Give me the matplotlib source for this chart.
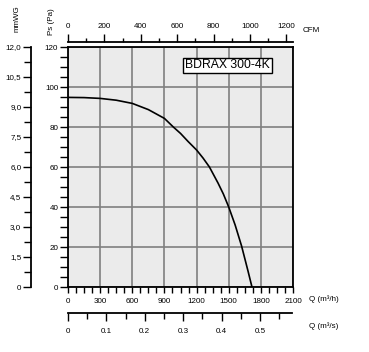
import matplotlib
matplotlib.use("Agg")
import matplotlib.pyplot as plt
from matplotlib.ticker import MultipleLocator, FixedLocator

plt.rcParams['font.family'] = ['Liberation Sans', 'DejaVu Sans']

# ---- data ----
flow_m3h = [0, 150, 300, 450, 600, 750, 900, 983, 1050, 1120, 1200, 1260, 1320, 1400, 1450, 1500, 1560, 1620, 1680, 1717]
pressure_pa = [94.8, 94.7, 94.3, 93.4, 91.8, 88.7, 84.3, 80, 76.8, 72.8, 68.5, 64.5, 60, 52, 46.5, 40, 31, 20.5, 8, 0]
model_name = "BDRAX 300-4K"
mmwg_ticks = [0, 1.5, 3.0, 4.5, 6.0, 7.5, 9.0, 10.5, 12.0]
mmwg_labels = ["0", "1,5", "3,0", "4,5", "6,0", "7,5", "9,0", "10,5", "12,0"]
pa_ticks = [0, 20, 40, 60, 80, 100, 120]
m3h_ticks = [0, 300, 600, 900, 1200, 1500, 1800, 2100]
cfm_ticks = [0, 200, 400, 600, 800, 1000, 1200]
m3s_ticks = [0, 0.1, 0.2, 0.3, 0.4, 0.5]
m3s_labels = ["0", "0.1", "0.2", "0.3", "0.4", "0.5"]

W, H = 369, 352
fig = plt.figure(figsize=(W / 100, H / 100), dpi=100)
fig.patch.set_facecolor('white')

def px_axes(x0, y0, x1, y1):
    return fig.add_axes([x0 / W, 1 - y1 / H, (x1 - x0) / W, (y1 - y0) / H])

FS = 5.8
XMAX = 2100

# main axes
ax = px_axes(68, 47, 293, 287)
ax.set_facecolor('#ebebeb')
ax.plot(flow_m3h, pressure_pa, color='black', lw=1.2, zorder=3)
ax.set_xlim(0, XMAX)
ax.set_ylim(0, 120)
ax.xaxis.set_major_locator(FixedLocator(m3h_ticks))
ax.xaxis.set_minor_locator(MultipleLocator(75))
ax.yaxis.set_major_locator(FixedLocator(pa_ticks))
ax.yaxis.set_minor_locator(MultipleLocator(5))
ax.grid(True, which='major', color='#808080', lw=1.2, zorder=1)
for s in ax.spines.values():
    s.set_linewidth(1.3)
    s.set_color('black')
ax.tick_params(axis='both', which='both', direction='out', labelsize=FS, color='black', width=1.0)
ax.tick_params(axis='x', which='major', length=4, pad=4)
ax.tick_params(axis='x', which='minor', length=4)
ax.tick_params(axis='y', which='major', length=6, pad=1)
ax.tick_params(axis='y', which='minor', length=6)
ax.set_xticklabels([str(t) for t in m3h_ticks])
ax.set_yticklabels([str(t) for t in pa_ticks])
fig.text(309 / W, 1 - 299 / H, "Q (m³/h)", fontsize=FS, va='center', ha='left')
ax.text(0.52, 0.923, model_name, transform=ax.transAxes, fontsize=8.8, ha='left', va='center',
        bbox=dict(boxstyle='square,pad=0.15', facecolor='white', edgecolor='black', lw=1.0), zorder=5)

# top CFM axis
axt = px_axes(68, 42.3, 293, 44)
axt.set_xlim(0, XMAX / 1.699)
axt.patch.set_visible(False)
for k, s in axt.spines.items():
    s.set_visible(k == 'top')
axt.spines['top'].set_linewidth(1.3)
axt.xaxis.tick_top()
axt.set_yticks([])
axt.xaxis.set_major_locator(FixedLocator(cfm_ticks))
axt.xaxis.set_minor_locator(FixedLocator([100, 300, 500, 700, 900, 1100]))
axt.set_xticklabels([str(t) for t in cfm_ticks])
axt.tick_params(axis='x', which='major', direction='out', length=6, width=1.0, labelsize=FS, pad=3)
axt.tick_params(axis='x', which='minor', direction='out', length=3, width=1.0)
fig.text(303 / W, 1 - 30 / H, "CFM", fontsize=FS, ha='left', va='center')

# left mmWG axis
axl = px_axes(31, 47, 33, 287)
axl.set_ylim(0, 12)
axl.patch.set_visible(False)
for k, s in axl.spines.items():
    s.set_visible(k == 'left')
axl.spines['left'].set_linewidth(1.3)
axl.set_xticks([])
axl.yaxis.set_major_locator(FixedLocator(mmwg_ticks))
axl.yaxis.set_minor_locator(FixedLocator([t + 0.75 for t in mmwg_ticks[:-1]]))
axl.set_yticklabels(mmwg_labels)
axl.tick_params(axis='y', which='major', direction='out', length=6, width=1.0, labelsize=FS, pad=1)
axl.tick_params(axis='y', which='minor', direction='out', length=5, width=1.0)

# bottom m3/s axis
axb = px_axes(68, 311, 292, 313)
axb.set_xlim(0, XMAX / 3600)
axb.patch.set_visible(False)
for k, s in axb.spines.items():
    s.set_visible(k == 'bottom')
axb.spines['bottom'].set_linewidth(1.3)
axb.set_yticks([])
axb.xaxis.set_major_locator(FixedLocator(m3s_ticks))
axb.xaxis.set_minor_locator(FixedLocator([0.05, 0.15, 0.25, 0.35, 0.45, 0.55]))
axb.set_xticklabels(m3s_labels)
axb.tick_params(axis='x', which='major', direction='out', length=6, width=1.0, labelsize=FS, pad=5)
axb.tick_params(axis='x', which='minor', direction='out', length=4, width=1.0)
fig.text(309 / W, 1 - 326 / H, "Q (m³/s)", fontsize=FS, ha='left', va='center')

# axis titles
fig.text(52 / W, 1 - 22 / H, "Ps (Pa)", fontsize=FS, rotation=90, ha='center', va='center')
fig.text(17 / W, 1 - 19 / H, "mmWG", fontsize=FS, rotation=90, ha='center', va='center')

fig.savefig("out.png", dpi=100)
